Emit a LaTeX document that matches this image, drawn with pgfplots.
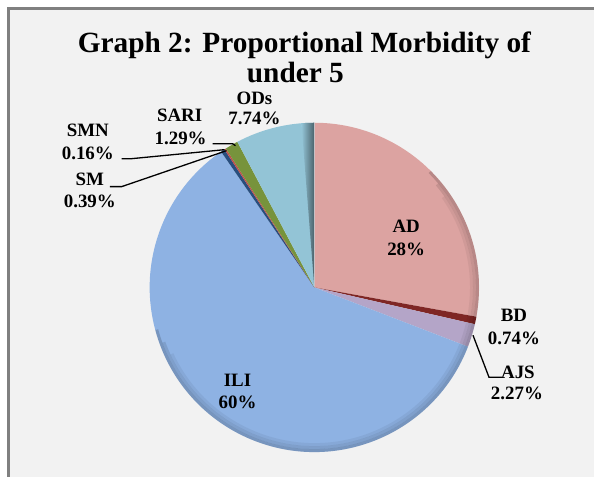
\documentclass[border=0pt]{standalone}
\usepackage{fontspec}
\setmainfont{Liberation Serif}
\usepackage{pgfplots}
\usepackage{pgfplotstable}
\pgfplotsset{compat=1.18}
\definecolor{bgcol}{HTML}{F2F2F2}
\definecolor{framecol}{HTML}{808080}
\definecolor{adcol}{HTML}{DCA3A1}
\definecolor{bdcol}{HTML}{7F2624}
\definecolor{ajscol}{HTML}{B4A5C8}
\definecolor{ilicol}{HTML}{8EB2E3}
\definecolor{smcol}{HTML}{284E7E}
\definecolor{smncol}{HTML}{C0504D}
\definecolor{saricol}{HTML}{77933C}
\definecolor{odscol}{HTML}{93C4D6}

\pgfplotstableread{
name value
AD 27.85
BD 0.74
AJS 2.27
ILI 59.56
SM 0.39
SMN 0.16
SARI 1.29
ODs 7.74
}\piedata

\newcommand\slice[2]{\fill[#2] (axis cs:315,190) -- ++(\csname sa#1\endcsname:165bp) arc[start angle=\csname sa#1\endcsname, end angle=\csname ea#1\endcsname, radius=165bp] -- cycle;}
\newcommand\lab{\fontsize{19}{23}\selectfont\bfseries}
\newcommand\ttl{\fontsize{29.5}{34}\selectfont\bfseries}

\begin{document}
\begin{tikzpicture}[every node/.style={inner sep=0.5bp}]
\xdef\curang{90}
\pgfplotsforeachungrouped \i in {0,...,7}{%
  \pgfplotstablegetelem{\i}{value}\of\piedata
  \pgfmathsetmacro\nextang{\curang-3.6*\pgfplotsretval}%
  \expandafter\xdef\csname sa\i\endcsname{\curang}%
  \expandafter\xdef\csname ea\i\endcsname{\nextang}%
  \xdef\curang{\nextang}%
}
\begin{axis}[hide axis, scale only axis, width=595bp, height=478bp,
  xmin=0, xmax=595, ymin=0, ymax=478, clip=false]
\fill[white] (axis cs:0,0) rectangle (axis cs:595,478);
\fill[bgcol] (axis cs:8,0) rectangle (axis cs:595,470);
\draw[framecol, line width=2.5bp] (axis cs:8.5,0) -- (axis cs:8.5,469.5) -- (axis cs:595,469.5);
% pie slices
\slice{0}{adcol}
\slice{1}{bdcol}
\slice{2}{ajscol}
\slice{3}{ilicol}
\slice{4}{smcol}
\slice{5}{smncol}
\slice{6}{saricol}
\slice{7}{odscol}
% bevel-like shading
\shade[left color=odscol, right color=odscol!50!black] (axis cs:315,190) -- ++(94.5:165bp) arc[start angle=94.5, end angle=90, radius=165bp] -- cycle;
\draw[black, opacity=0.16, line width=3bp] (axis cs:315,190) ++(195:163.5bp) arc[start angle=195, end angle=405, radius=163.5bp];
\draw[black, opacity=0.10, line width=3bp] (axis cs:315,190) ++(200:160.5bp) arc[start angle=200, end angle=400, radius=160.5bp];
\draw[black, opacity=0.05, line width=3bp] (axis cs:315,190) ++(205:157.5bp) arc[start angle=205, end angle=395, radius=157.5bp];
% title
\node[anchor=base, font=\ttl] at (axis cs:305,425) {Graph 2: Proportional Morbidity of};
\node[anchor=base, font=\ttl] at (axis cs:296,395) {under 5};
% leader lines
\draw[black, line width=1.3bp] (axis cs:213,334) -- (axis cs:233,334) -- (axis cs:236,332);
\draw[black, line width=1.3bp] (axis cs:122,319) -- (axis cs:132,319) -- (axis cs:225,328);
\draw[black, line width=1.3bp] (axis cs:110,291) -- (axis cs:122,291) -- (axis cs:227,327);
\draw[black, line width=1.3bp] (axis cs:474,142) -- (axis cs:490,100) -- (axis cs:503,100);
% labels
\node[anchor=base, font=\lab] at (axis cs:255,373) {ODs};
\node[anchor=base, font=\lab] at (axis cs:255,353) {7.74\%};
\node[anchor=base, font=\lab] at (axis cs:180,356) {SARI};
\node[anchor=base, font=\lab] at (axis cs:181,333) {1.29\%};
\node[anchor=base, font=\lab] at (axis cs:88,341) {SMN};
\node[anchor=base, font=\lab] at (axis cs:88,318) {0.16\%};
\node[anchor=base, font=\lab] at (axis cs:90,292) {SM};
\node[anchor=base, font=\lab] at (axis cs:90,270) {0.39\%};
\node[anchor=base, font=\lab] at (axis cs:515,156) {BD};
\node[anchor=base, font=\lab] at (axis cs:515,133) {0.74\%};
\node[anchor=base, font=\lab] at (axis cs:519,99) {AJS};
\node[anchor=base, font=\lab] at (axis cs:518,78) {2.27\%};
\node[anchor=base, font=\lab] at (axis cs:407,245) {AD};
\node[anchor=base, font=\lab] at (axis cs:407,222) {28\%};
\node[anchor=base, font=\lab] at (axis cs:238,91) {ILI};
\node[anchor=base, font=\lab] at (axis cs:238,69) {60\%};
\end{axis}
\end{tikzpicture}
\end{document}
